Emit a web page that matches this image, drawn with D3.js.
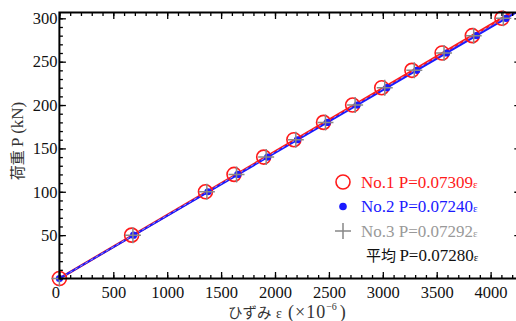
<!DOCTYPE html>
<html><head><meta charset="utf-8">
<script src="https://cdn.jsdelivr.net/npm/d3@7"></script>
<style>body{margin:0;background:#fff}svg{display:block}</style></head><body>
<svg id="c" width="516" height="321"></svg>
<script>
const loads=[0,50,100,120,140,160,180,200,220,240,260,280,300];
const strainNo1=[0,670,1355,1620,1895,2175,2450,2720,2990,3270,3550,3830,4105];
const strainNo2=[0,688,1378,1655,1932,2208,2485,2762,3038,3315,3592,3868,4143];
const strainNo3=[0,682,1368,1643,1918,2193,2468,2743,3018,3292,3568,3843,4118];
const slopes=[0.07309,0.07240,0.07292,0.07280];
const legendLabels=["No.1 P=0.07309","No.2 P=0.07240","No.3 P=0.07292","P=0.07280"];
const xTicks=[0,500,1000,1500,2000,2500,3000,3500,4000];
const yTicks=[50,100,150,200,250,300];

const SERIF="Liberation Serif, DejaVu Serif, serif";
const CJK="Noto Sans CJK JP, sans-serif";
const svg=d3.select("#c");
const L=59.4,R=520.8,T=12.5,B=278.5;
const x=d3.scaleLinear().domain([0,4280]).range([L,R]);
const y=d3.scaleLinear().domain([0,306.7]).range([B,T]);

svg.append("clipPath").attr("id","clip").append("rect")
  .attr("x",L).attr("y",T).attr("width",R-L).attr("height",B-T);

// fit lines
const lineCols=["#ff1a1a","#1a1aff"];
const plot=svg.append("g").attr("clip-path","url(#clip)");
const xEnd=x.domain()[1];
[0,1].forEach(i=>{
  plot.append("line").attr("x1",x(0)).attr("y1",y(0))
    .attr("x2",x(xEnd)).attr("y2",y(slopes[i]*xEnd))
    .attr("stroke",lineCols[i]).attr("stroke-width",i===0?2.6:2);
});
plot.append("line").attr("x1",x(0)).attr("y1",y(0))
  .attr("x2",x(xEnd)).attr("y2",y(slopes[2]*xEnd))
  .attr("stroke","#9aa8ff").attr("stroke-width",0.9).attr("stroke-dasharray","3,3");

// markers
const pts1=loads.map((p,i)=>[strainNo1[i],p]);
const pts2=loads.map((p,i)=>[strainNo2[i],p]);
const pts3=loads.map((p,i)=>[strainNo3[i],p]);
svg.append("g").selectAll("circle").data(pts1).join("circle")
  .attr("cx",d=>x(d[0])).attr("cy",d=>y(d[1])).attr("r",7)
  .attr("fill","none").attr("stroke","#ff1a1a").attr("stroke-width",1.6);
svg.append("g").selectAll("circle").data(pts2).join("circle")
  .attr("cx",d=>x(d[0])).attr("cy",d=>y(d[1])).attr("r",3.6)
  .attr("fill","#1a1aff");
const cross=svg.append("g").attr("stroke","#888").attr("stroke-width",1.5);
cross.selectAll("path").data(pts3).join("path")
  .attr("d",d=>{const cx=x(d[0]),cy=y(d[1]);return `M${cx-8},${cy}H${cx+8}M${cx},${cy-8}V${cy+8}`;});

// axes
function styleAxis(g){g.attr("font-family",null).attr("font-size",null);g.select(".domain").remove();
  g.selectAll("line").attr("stroke","#000").attr("stroke-width",1.3);
  g.selectAll("text").style("font-family",SERIF).style("font-size","16.5px").attr("fill","#111");}
const minorX=d3.range(0,4281,100), minorY=d3.range(0,307,10);
svg.append("g").attr("transform",`translate(0,${B})`)
  .call(d3.axisBottom(x).tickValues(minorX).tickSize(-3.5).tickFormat("")).call(styleAxis);
svg.append("g").attr("transform",`translate(0,${B})`)
  .call(d3.axisBottom(x).tickValues(xTicks).tickSize(-6.5).tickPadding(8).tickFormat(d3.format("d"))).call(styleAxis)
  .selectAll("text").attr("dx",d=>d===0?-4:0);
svg.append("g").attr("transform",`translate(0,${T})`)
  .call(d3.axisTop(x).tickValues(minorX).tickSize(-3.5).tickFormat("")).call(styleAxis);
svg.append("g").attr("transform",`translate(0,${T})`)
  .call(d3.axisTop(x).tickValues(xTicks).tickSize(-6.5).tickFormat("")).call(styleAxis);
svg.append("g").attr("transform",`translate(${L},0)`)
  .call(d3.axisLeft(y).tickValues(minorY).tickSize(-3.5).tickFormat("")).call(styleAxis);
svg.append("g").attr("transform",`translate(${L},0)`)
  .call(d3.axisLeft(y).tickValues(yTicks).tickSize(-6.5).tickPadding(2).tickFormat(d3.format("d"))).call(styleAxis);
svg.append("g").attr("transform",`translate(${R},0)`)
  .call(d3.axisRight(y).tickValues(yTicks).tickSize(-6.5).tickFormat("")).call(styleAxis);
svg.append("rect").attr("x",L).attr("y",T).attr("width",R-L).attr("height",B-T)
  .attr("fill","none").attr("stroke","#000").attr("stroke-width",2);

// axis titles
const xt=svg.append("text").attr("x",228).attr("y",318).attr("fill","#333");
xt.append("tspan").style("font-family",CJK).style("font-size","14.5px").text("ひずみ");
xt.append("tspan").attr("x",276).style("font-family",SERIF).style("font-size","14px").text("ε");
xt.append("tspan").attr("x",288).style("font-family",SERIF).style("font-size","18px").style("letter-spacing","1px").text("(×10");
xt.append("tspan").style("font-family",SERIF).style("font-size","10px").attr("dy",-8).text("−6");
xt.append("tspan").attr("dx",3).attr("dy",8).style("font-family",SERIF).style("font-size","18px").text(")");
const yt=svg.append("text").attr("transform","translate(23,141) rotate(-90)").attr("text-anchor","middle")
  .attr("fill","#333");
yt.append("tspan").style("font-family",CJK).style("font-size","15px").text("荷重 ");
yt.append("tspan").style("font-family",SERIF).style("font-size","17px").text("P (kN)");

// legend
const legY=[182,206.5,231,255.5];
const legCols=["#ff1a1a","#1a1aff","#999","#111"];
const lg=svg.append("g");
lg.append("circle").attr("cx",343).attr("cy",legY[0]).attr("r",7).attr("fill","none").attr("stroke",legCols[0]).attr("stroke-width",1.6);
lg.append("circle").attr("cx",343).attr("cy",legY[1]).attr("r",3.8).attr("fill",legCols[1]);
lg.append("path").attr("d",`M335,${legY[2]}H351M343,${legY[2]-8}V${legY[2]+8}`).attr("stroke","#888").attr("stroke-width",1.5);
legendLabels.forEach((t,i)=>{
  const tx=lg.append("text").attr("x",i===3?366:361).attr("y",legY[i]+5.5).style("font-size","17px").attr("fill",legCols[i]);
  if(i===3){tx.append("tspan").style("font-family",CJK).style("font-size","15px").text("平均 ");}
  tx.append("tspan").style("font-family",SERIF).text(t);
  tx.append("tspan").style("font-family",SERIF).style("font-size","11px").text("ε");
});
</script></body></html>
